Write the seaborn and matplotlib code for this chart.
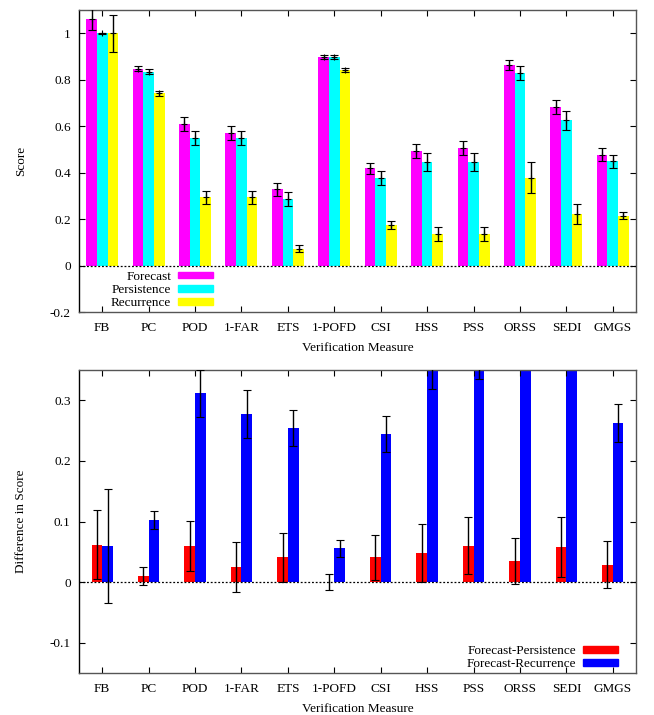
import pandas as pd
import matplotlib
matplotlib.use("Agg")
import matplotlib.pyplot as plt
import seaborn as sns
from matplotlib.patches import Patch
from matplotlib.ticker import FormatStrFormatter

measures = ["FB", "PC", "POD", "1-FAR", "ETS", "1-POFD", "CSI", "HSS", "PSS", "ORSS", "SEDI", "GMGS"]

# top panel: scores
forecast = [1.06, 0.847, 0.608, 0.572, 0.328, 0.898, 0.418, 0.495, 0.506, 0.864, 0.682, 0.478]
forecast_err = [0.045, 0.01, 0.03, 0.03, 0.027, 0.007, 0.024, 0.03, 0.03, 0.021, 0.03, 0.028]
persistence = [1.0, 0.835, 0.548, 0.548, 0.288, 0.898, 0.376, 0.445, 0.445, 0.83, 0.625, 0.449]
persistence_err = [0.003, 0.01, 0.03, 0.03, 0.03, 0.007, 0.03, 0.038, 0.038, 0.031, 0.041, 0.029]
recurrence = [1.0, 0.741, 0.295, 0.295, 0.073, 0.843, 0.173, 0.136, 0.136, 0.379, 0.223, 0.215]
recurrence_err = [0.08, 0.01, 0.028, 0.028, 0.016, 0.008, 0.017, 0.029, 0.029, 0.066, 0.044, 0.016]

# bottom panel: differences
f_minus_p = [0.0615, 0.0104, 0.06, 0.0247, 0.0407, 0.0, 0.0407, 0.048, 0.06, 0.0346, 0.0577, 0.029]
f_minus_p_err = [0.057, 0.015, 0.041, 0.0415, 0.04, 0.0132, 0.037, 0.0475, 0.047, 0.0385, 0.05, 0.039]
f_minus_r = [0.06, 0.103, 0.3115, 0.277, 0.254, 0.056, 0.244, 0.358, 0.37, 0.485, 0.459, 0.2626]
f_minus_r_err = [0.094, 0.015, 0.039, 0.04, 0.03, 0.014, 0.03, 0.04, 0.035, 0.06, 0.05, 0.031]

top_series = ["Forecast", "Persistence", "Recurrence"]
top_colors = ["#ff00ff", "#00ffff", "#ffff00"]
bot_series = ["Forecast-Persistence", "Forecast-Recurrence"]
bot_colors = ["#ff0000", "#0000ff"]

plt.rcParams["font.family"] = ["Liberation Serif", "DejaVu Serif"]
plt.rcParams["font.size"] = 9.5
plt.rcParams["axes.unicode_minus"] = False

top_df = pd.DataFrame({
    "measure": measures * 3,
    "series": [s for s in top_series for _ in measures],
    "value": forecast + persistence + recurrence,
})
bot_df = pd.DataFrame({
    "measure": measures * 2,
    "series": [s for s in bot_series for _ in measures],
    "value": f_minus_p + f_minus_r,
})

fig = plt.figure(figsize=(6.54, 7.15), dpi=100)
ax1 = fig.add_axes([0.1208, 0.5636, 0.8517, 0.4224])
ax2 = fig.add_axes([0.1208, 0.0587, 0.8517, 0.4238])


def draw(ax, df, series, colors, errs, width, ylim, yticks, ylabel, marker):
    sns.barplot(data=df, x="measure", y="value", hue="series", order=measures,
                hue_order=series, palette=colors, width=width, gap=0, saturation=1,
                errorbar=None, legend=False, linewidth=0, ax=ax)
    for cont, err in zip(ax.containers, errs):
        xs = [b.get_x() + b.get_width() / 2 for b in cont]
        ys = [b.get_height() for b in cont]
        ax.errorbar(xs, ys, yerr=err, fmt=marker, color="black", ms=4, mew=0.8,
                    elinewidth=1, capsize=2.6, capthick=1, zorder=3)
    ax.axhline(0, color="black", ls=(0, (1.5, 1.5)), lw=0.9, zorder=4)
    ax.set_xlim(-0.5, len(measures) - 0.5)
    ax.set_ylim(*ylim)
    ax.set_yticks(yticks)
    ax.yaxis.set_major_formatter(FormatStrFormatter("%g"))
    ax.tick_params(direction="in", length=4, width=0.8, top=True, right=True, pad=6)
    ax.tick_params(axis="x", pad=7)
    for sp in ax.spines.values():
        sp.set_color("#555555")
        sp.set_linewidth(1)
    ax.spines["left"].set_color("black")
    ax.set_xlabel("Verification Measure")
    ax.set_ylabel(ylabel)
    ax.yaxis.set_label_coords(-0.093, 0.5)
    ax.xaxis.set_label_coords(0.5, -0.1)


draw(ax1, top_df, top_series, top_colors,
     [forecast_err, persistence_err, recurrence_err], 0.69,
     (-0.2, 1.1), [-0.2, 0, 0.2, 0.4, 0.6, 0.8, 1.0], "Score", "+")
draw(ax2, bot_df, bot_series, bot_colors,
     [f_minus_p_err, f_minus_r_err], 0.46,
     (-0.15, 0.35), [-0.1, 0, 0.1, 0.2, 0.3], "Difference in Score", "none")

h1 = [Patch(color=c, label=s) for s, c in zip(top_series, top_colors)]
ax1.legend(handles=h1, loc="lower right", bbox_to_anchor=(0.246, 0.0),
           frameon=False, markerfirst=False, handlelength=2.7, handleheight=0.4,
           handletextpad=0.5, labelspacing=0.1, borderpad=0.2, borderaxespad=0)
h2 = [Patch(color=c, label=s) for s, c in zip(bot_series, bot_colors)]
ax2.legend(handles=h2, loc="lower right", bbox_to_anchor=(0.973, 0.0),
           frameon=False, markerfirst=False, handlelength=2.7, handleheight=0.4,
           handletextpad=0.5, labelspacing=0.1, borderpad=0.2, borderaxespad=0)

fig.savefig("out.png", dpi=100)
